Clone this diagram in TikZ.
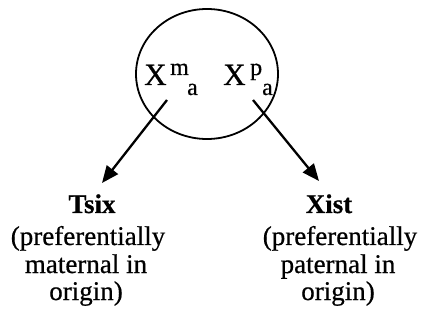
\documentclass[tikz,border=0pt]{standalone}
\usepackage{fontspec}
\setmainfont{Liberation Serif}[FakeBold=0.6]
\usetikzlibrary{arrows.meta}
\begin{document}
\begin{tikzpicture}[x=1pt,y=-1pt,
  big/.style={inner sep=0pt,anchor=base west,font=\fontsize{31}{31}\selectfont},
  small/.style={inner sep=0pt,anchor=base west,font=\fontsize{24}{24}\selectfont},
  head/.style={inner sep=0pt,anchor=base,font=\fontsize{27}{27}\selectfont\bfseries},
  body/.style={inner sep=0pt,anchor=base,font=\fontsize{27}{27}\selectfont},
  arr/.style={line width=2.3pt,-{Triangle[length=17pt,width=14pt]}}]
\useasboundingbox (0,0) rectangle (428,320);
\draw[line width=1.8pt] (207,74) ellipse [x radius=71, y radius=65];
\node[big] (xm) at (144,85) {X};
\node[small] (m) at (170,75) {m};
\node[small] (am) at (187,95) {a};
\node[big] (xp) at (223,85) {X};
\node[small] (p) at (250,75) {p};
\node[small] (ap) at (262,95) {a};
\coordinate (s1) at (167,100);
\coordinate (s2) at (253,100);
\node[head] (tsix) at (92,213) {Tsix};
\node[body] (l1) at (88,245) {(preferentially};
\node[body] (l2) at (86,273) {maternal in};
\node[body] (l3) at (86,300) {origin)};
\node[head] (xist) at (329,213) {Xist};
\node[body] (r1) at (340,245) {(preferentially};
\node[body] (r2) at (338,273) {paternal in};
\node[body] (r3) at (338,300) {origin)};
\coordinate (t1) at (102,183);
\coordinate (t2) at (319,181);
\draw[arr] (s1) -- (t1);
\draw[arr] (s2) -- (t2);
\end{tikzpicture}
\end{document}
